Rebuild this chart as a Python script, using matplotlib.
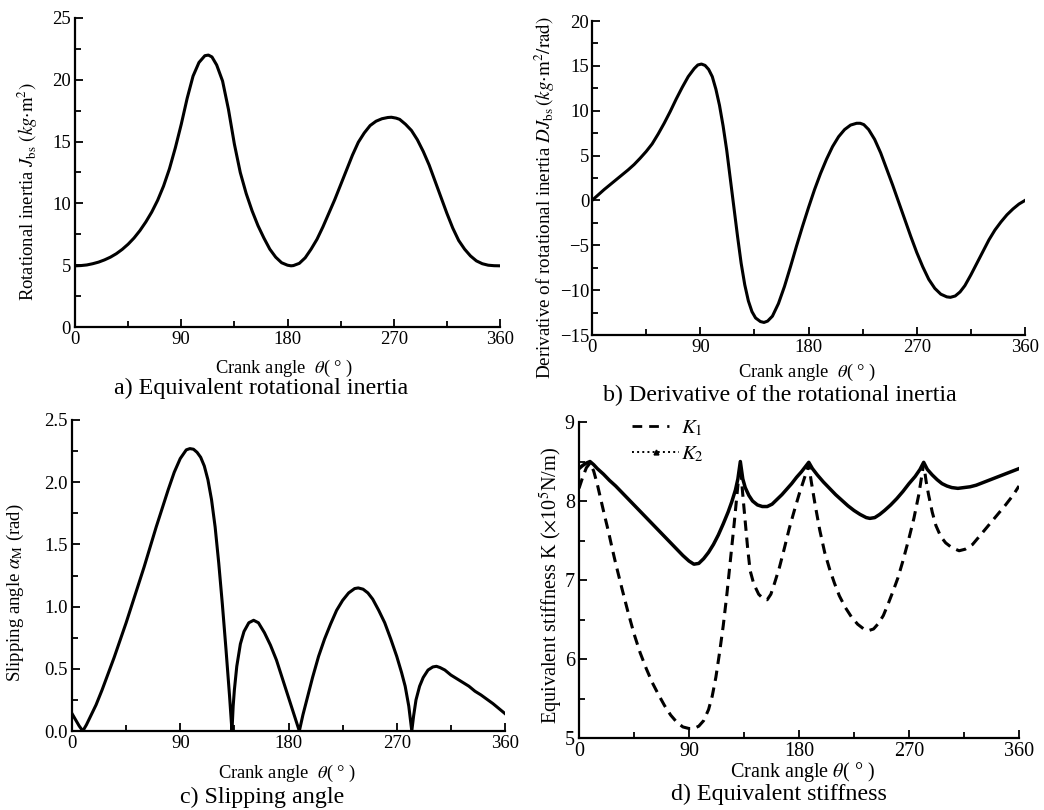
import matplotlib
matplotlib.use("Agg")
import matplotlib.pyplot as plt
from matplotlib.lines import Line2D
from matplotlib.ticker import MultipleLocator, FormatStrFormatter

plt.rcParams['font.family'] = ['Liberation Serif', 'DejaVu Serif']
plt.rcParams['mathtext.fontset'] = 'stix'

# ---------------- data ----------------
# a) Equivalent rotational inertia J_bs (kg m^2)
theta_a = [0, 5, 10, 15, 20, 25, 30, 35, 40, 45, 50, 55, 60, 65, 70, 75, 80, 85, 90, 95, 100,
           105, 110, 113, 116, 120, 125, 130, 135, 140, 145, 150, 155, 160, 165, 170, 175, 180,
           183, 185, 190, 195, 200, 205, 210, 215, 220, 225, 230, 235, 240, 245, 250, 255, 260,
           265, 268, 272, 275, 280, 285, 290, 295, 300, 305, 310, 315, 320, 325, 330, 335, 340,
           345, 350, 355, 360]
J_bs = [4.95, 4.97, 5.02, 5.12, 5.25, 5.43, 5.65, 5.93, 6.28, 6.7, 7.2, 7.8, 8.5, 9.3, 10.25,
        11.4, 12.8, 14.5, 16.4, 18.5, 20.3, 21.4, 21.95, 22.0, 21.85, 21.2, 19.9, 17.6, 14.8,
        12.5, 10.8, 9.4, 8.2, 7.2, 6.3, 5.65, 5.2, 5.0, 4.95, 4.97, 5.15, 5.6, 6.3, 7.1, 8.1,
        9.2, 10.3, 11.5, 12.7, 13.9, 14.95, 15.7, 16.3, 16.65, 16.85, 16.95, 16.97, 16.9, 16.8,
        16.4, 15.9, 15.15, 14.2, 13.1, 11.8, 10.5, 9.2, 8.0, 7.0, 6.3, 5.75, 5.35, 5.12, 5.0,
        4.96, 4.95]

# b) Derivative of rotational inertia DJ_bs (kg m^2/rad)
theta_b = [0, 5, 10, 15, 20, 25, 30, 35, 40, 45, 50, 55, 60, 65, 70, 75, 80, 85, 88, 91, 94,
           97, 100, 103, 106, 109, 112, 115, 118, 121, 124, 127, 130, 133, 136, 140, 143, 146,
           150, 155, 160, 165, 170, 175, 180, 185, 190, 195, 200, 205, 210, 215, 220, 223, 226,
           230, 235, 240, 245, 250, 255, 260, 265, 270, 275, 280, 285, 290, 295, 298, 302, 306,
           310, 315, 320, 325, 330, 335, 340, 345, 350, 355, 360]
DJ_bs = [0.0, 0.6, 1.2, 1.75, 2.3, 2.85, 3.4, 4.0, 4.7, 5.45, 6.3, 7.4, 8.6, 9.9, 11.3, 12.6,
         13.8, 14.7, 15.1, 15.2, 15.05, 14.6, 13.8, 12.4, 10.6, 8.3, 5.6, 2.4, -0.8, -4.0, -7.0,
         -9.4, -11.2, -12.4, -13.1, -13.5, -13.6, -13.45, -12.9, -11.5, -9.6, -7.4, -5.1, -2.9,
         -0.8, 1.2, 3.0, 4.6, 6.0, 7.1, 7.9, 8.4, 8.6, 8.6, 8.45, 7.9, 6.8, 5.3, 3.5, 1.7, -0.2,
         -2.1, -4.0, -5.8, -7.4, -8.8, -9.8, -10.45, -10.75, -10.8, -10.65, -10.2, -9.5, -8.3,
         -7.0, -5.7, -4.4, -3.3, -2.4, -1.6, -0.95, -0.4, 0.0]

# c) Slipping angle alpha_M (rad)
theta_c = [0, 3, 6, 9, 12, 15, 20, 25, 30, 35, 40, 45, 50, 55, 60, 65, 70, 75, 80, 85, 90, 95,
           98, 101, 104, 107, 110, 113, 116, 119, 122, 125, 128, 131, 133,
           134, 135, 137, 140, 143, 147, 151, 155, 160, 165, 170, 175, 180, 185, 189,
           192, 196, 200, 205, 210, 215, 220, 225, 230, 235, 238, 242, 246, 250, 255, 260, 265,
           270, 274, 277, 280, 282.5,
           284, 286, 289, 292, 296, 300, 303, 306, 310, 315, 320, 325, 330, 335, 340, 345, 350,
           355, 360]
alpha_M = [0.14, 0.09, 0.04, 0.0, 0.05, 0.11, 0.21, 0.33, 0.46, 0.59, 0.73, 0.87, 1.02, 1.17,
           1.32, 1.48, 1.64, 1.79, 1.94, 2.08, 2.19, 2.26, 2.27, 2.265, 2.24, 2.2, 2.13, 2.02,
           1.86, 1.64, 1.35, 1.02, 0.66, 0.28, 0.0,
           0.2, 0.33, 0.52, 0.7, 0.8, 0.87, 0.89, 0.87, 0.79, 0.69, 0.57, 0.42, 0.27, 0.12, 0.0,
           0.13, 0.28, 0.43, 0.6, 0.74, 0.86, 0.97, 1.05, 1.11, 1.145, 1.15, 1.14, 1.11, 1.06,
           0.97, 0.87, 0.74, 0.6, 0.47, 0.36, 0.2, 0.0,
           0.12, 0.25, 0.36, 0.43, 0.49, 0.515, 0.52, 0.51, 0.49, 0.45, 0.42, 0.39, 0.36, 0.32,
           0.29, 0.255, 0.22, 0.18, 0.14]

# d) Equivalent stiffness K (x10^5 N/m)
theta_k1 = [0, 3, 6, 9, 12, 15, 18, 21, 24, 27, 30, 35, 40, 45, 50, 55, 60, 65, 70, 75, 80, 85,
            90, 94, 98, 102, 106, 109, 112, 115, 118, 121, 124, 127, 130, 132, 134, 136, 138,
            140, 143, 147, 151, 154, 157, 160, 164, 168, 172, 176, 180, 184, 188, 190, 193, 197,
            201, 205, 209, 213, 218, 223, 228, 233, 237, 241, 245, 249, 253, 257, 261, 265, 270,
            274, 278, 282, 284, 286, 289, 292, 296, 300, 305, 311, 316, 322, 328, 335, 342, 349,
            355, 360]
K1 = [8.16, 8.30, 8.42, 8.48, 8.38, 8.21, 8.01, 7.81, 7.62, 7.41, 7.21, 6.90, 6.60, 6.32, 6.08,
      5.88, 5.70, 5.55, 5.41, 5.29, 5.20, 5.14, 5.12, 5.12, 5.15, 5.22, 5.36, 5.53, 5.77, 6.08,
      6.42, 6.82, 7.27, 7.72, 8.20, 8.46, 8.08, 7.74, 7.40, 7.12, 6.95, 6.82, 6.76, 6.75, 6.82,
      6.96, 7.16, 7.40, 7.65, 7.87, 8.08, 8.27, 8.46, 8.25, 7.97, 7.63, 7.35, 7.14, 6.96, 6.80,
      6.65, 6.53, 6.44, 6.38, 6.36, 6.38, 6.45, 6.55, 6.70, 6.86, 7.03, 7.24, 7.53, 7.78, 8.08,
      8.47, 8.25, 8.08, 7.86, 7.69, 7.55, 7.47, 7.41, 7.37, 7.39, 7.45, 7.56, 7.69, 7.82, 7.95,
      8.07, 8.19]

theta_k2 = [0, 3, 6, 9, 12, 15, 20, 25, 30, 35, 40, 45, 50, 55, 60, 65, 70, 75, 80, 85, 90, 94,
            98, 102, 106, 110, 114, 118, 122, 125, 128, 130, 132, 134, 136, 139, 142, 146, 150,
            154, 158, 162, 166, 170, 174, 178, 182, 185, 188, 191, 195, 200, 205, 210, 215, 220,
            225, 230, 235, 238, 242, 246, 250, 255, 260, 265, 270, 275, 279, 282, 285, 289, 293,
            297, 301, 305, 310, 315, 320, 325, 330, 335, 340, 345, 350, 355, 360]
K2 = [8.41, 8.45, 8.48, 8.50, 8.46, 8.41, 8.34, 8.26, 8.19, 8.11, 8.03, 7.95, 7.87, 7.79, 7.71,
      7.63, 7.55, 7.47, 7.39, 7.31, 7.24, 7.20, 7.21, 7.27, 7.35, 7.45, 7.57, 7.71, 7.86, 7.99,
      8.14, 8.28, 8.50, 8.28, 8.17, 8.07, 8.00, 7.95, 7.93, 7.93, 7.96, 8.02, 8.08, 8.15, 8.22,
      8.30, 8.37, 8.43, 8.49, 8.41, 8.33, 8.24, 8.16, 8.08, 8.01, 7.94, 7.88, 7.83, 7.79, 7.78,
      7.79, 7.83, 7.88, 7.95, 8.03, 8.12, 8.22, 8.31, 8.40, 8.49, 8.40, 8.33, 8.27, 8.22, 8.19,
      8.17, 8.16, 8.17, 8.18, 8.20, 8.23, 8.26, 8.29, 8.32, 8.35, 8.38, 8.41]

x_ticks = [0, 90, 180, 270, 360]
captions = ['a) Equivalent rotational inertia', 'b) Derivative of the rotational inertia',
            'c) Slipping angle', 'd) Equivalent stiffness']

# ---------------- figure ----------------
W, H = 1044, 810
fig = plt.figure(figsize=(W / 100, H / 100), dpi=100)


def box(l, r, t, b):
    return [l / W, 1 - b / H, (r - l) / W, (b - t) / H]


CAP_FS = 17.3


def style(ax, ylim, ymaj, ymin, fs):
    ax.set_xlim(0, 360)
    ax.set_ylim(*ylim)
    ax.set_xticks(x_ticks)
    ax.xaxis.set_minor_locator(MultipleLocator(45))
    ax.yaxis.set_major_locator(MultipleLocator(ymaj))
    ax.yaxis.set_minor_locator(MultipleLocator(ymin))
    for s in ['top', 'right']:
        ax.spines[s].set_visible(False)
    for s in ['left', 'bottom']:
        ax.spines[s].set_linewidth(1.6)
    ax.tick_params(which='both', direction='in', width=1.3, labelsize=fs, pad=3)
    ax.tick_params(which='major', length=6)
    ax.tick_params(which='minor', length=4)


lw = 2.2

# a
ax_a = fig.add_axes(box(75, 500, 18, 327))
ax_a.plot(theta_a, J_bs, color='k', lw=lw)
style(ax_a, (0, 25), 5, 2.5, 13.5)

# b
ax_b = fig.add_axes(box(592, 1025, 21, 335))
ax_b.plot(theta_b, DJ_bs, color='k', lw=lw)
style(ax_b, (-15, 20), 5, 2.5, 13.5)
ax_b.tick_params(axis='y', pad=2)

# c
ax_c = fig.add_axes(box(72, 505, 420, 731))
ax_c.plot(theta_c, alpha_M, color='k', lw=lw)
style(ax_c, (0, 2.5), 0.5, 0.25, 13.5)
ax_c.yaxis.set_major_formatter(FormatStrFormatter('%.1f'))

# d
ax_d = fig.add_axes(box(579, 1019, 422, 738))
ax_d.plot(theta_k1, K1, color='k', lw=lw, dashes=(3.4, 2.2))
ax_d.plot(theta_k2, K2, color='k', lw=lw + 0.3)
style(ax_d, (5, 9), 1, 0.5, 14.5)
h1 = Line2D([], [], color='k', lw=2, dashes=(3.5, 2.5, 3.5, 3.0, 0.8, 20))
h2 = Line2D([], [], color='k', lw=1.4, ls=':', marker='^', markersize=3.5)
ax_d.legend([h1, h2], [r'$K_1$', r'$K_2$'], loc='upper left', bbox_to_anchor=(0.088, 1.058),
            frameon=False, fontsize=15, handlelength=2.25, handletextpad=0.1,
            labelspacing=0.3, borderpad=0.2)


def px(x, y):
    return x / W, 1 - y / H


# x labels
xlabel = r'Crank angle  $\theta$( ° )'
for (x, y) in [(284, 368), (807, 372), (287, 773)]:
    fig.text(*px(x, y), xlabel, ha='center', va='center', fontsize=13.3)
fig.text(*px(803, 772), r'Crank angle $\theta$( ° )', ha='center', va='center', fontsize=14.5)

# y labels
ylabels = [r'Rotational inertia $J_{\rm bs}$ $(kg{\cdot}{\rm m}^2)$',
           r'Derivative of rotational inertia $DJ_{\rm bs}\,(kg{\cdot}{\rm m}^2{\rm /rad})$',
           r'Slipping angle $\alpha_{\rm M}$ (rad)',
           r'Equivalent stiffness K ($\times$10$^5$N/m)']
ypos = [(28, 192), (545, 198), (15, 593), (551, 585)]
ysizes = [13.4, 13.7, 13.5, 14.6]
for (x, y), t, fs in zip(ypos, ylabels, ysizes):
    fig.text(*px(x, y), t, ha='center', va='center', rotation=90, fontsize=fs)

# captions
for (x, y), t in zip([(261, 388), (780, 395), (262, 797), (779, 794)], captions):
    fig.text(*px(x, y), t, ha='center', va='center', fontsize=CAP_FS)

fig.savefig('out.png', dpi=100)
